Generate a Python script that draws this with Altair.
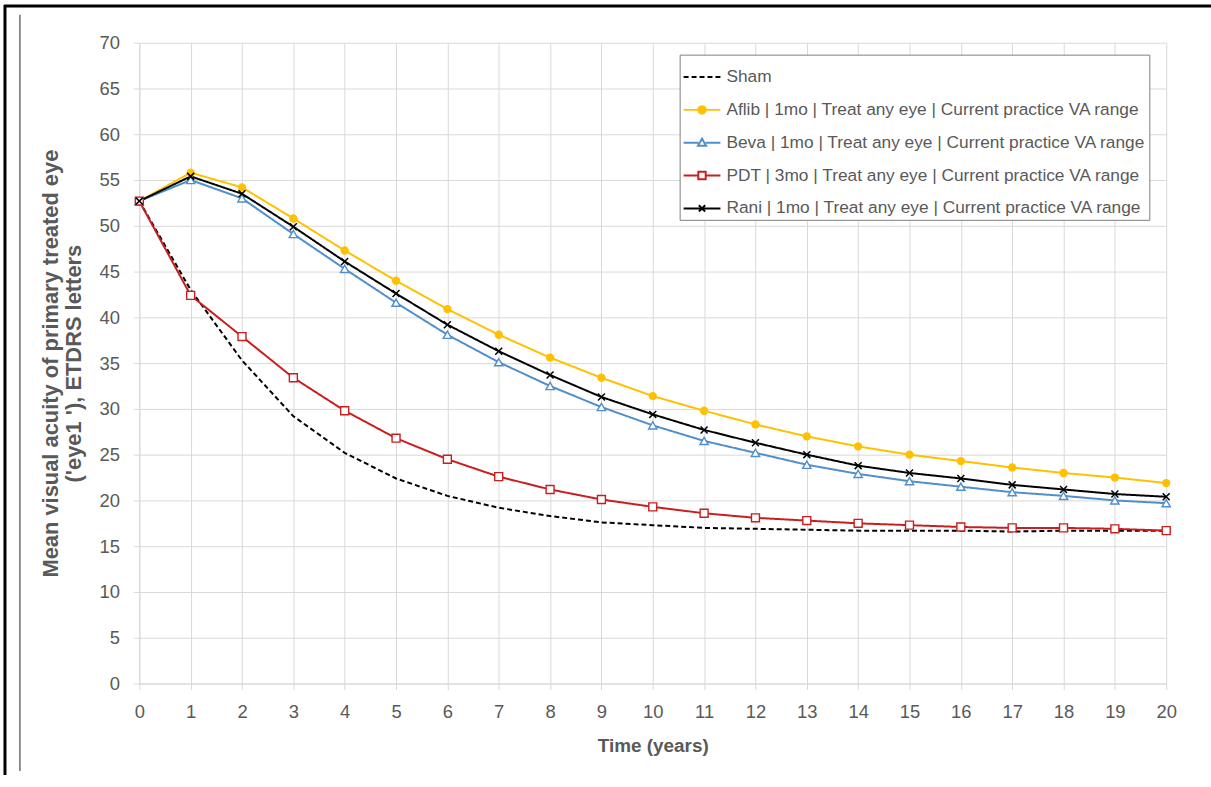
import altair as alt
import pandas as pd

years = list(range(21))
series_names = [
    "Sham",
    "Aflib | 1mo | Treat any eye | Current practice VA range",
    "Beva | 1mo | Treat any eye | Current practice VA range",
    "PDT | 3mo | Treat any eye | Current practice VA range",
    "Rani | 1mo | Treat any eye | Current practice VA range",
]
sham = [52.7, 43.0, 35.3, 29.2, 25.2, 22.4, 20.5, 19.2, 18.3, 17.6, 17.3, 17.0, 16.9, 16.8, 16.7, 16.7, 16.7, 16.6, 16.7, 16.7, 16.7]
aflib = [52.7, 55.8, 54.2, 50.8, 47.3, 44.0, 40.9, 38.1, 35.6, 33.4, 31.4, 29.8, 28.3, 27.0, 25.9, 25.0, 24.3, 23.6, 23.0, 22.5, 21.9]
beva = [52.7, 55.0, 53.0, 49.1, 45.3, 41.6, 38.1, 35.1, 32.5, 30.2, 28.2, 26.5, 25.2, 23.9, 22.9, 22.1, 21.5, 20.9, 20.5, 20.0, 19.7]
pdt = [52.7, 42.4, 37.9, 33.4, 29.8, 26.8, 24.5, 22.6, 21.2, 20.1, 19.3, 18.6, 18.1, 17.8, 17.5, 17.3, 17.1, 17.0, 17.0, 16.9, 16.7]
rani = [52.7, 55.4, 53.5, 49.9, 46.1, 42.6, 39.2, 36.3, 33.7, 31.3, 29.4, 27.7, 26.3, 25.0, 23.8, 23.0, 22.4, 21.7, 21.2, 20.7, 20.4]
colors = ["#000000", "#FFC000", "#4F8FCC", "#C81E1E", "#000000"]
y_ticks = list(range(0, 75, 5))

rows = []
for name, vals in zip(series_names, [sham, aflib, beva, pdt, rani]):
    for yr, v in zip(years, vals):
        rows.append({"year": yr, "va": v, "series": name})
df = pd.DataFrame(rows)

FONT = "Liberation Sans"
GREY = "#595959"

color_scale = alt.Scale(domain=series_names, range=colors)
dash_scale = alt.Scale(domain=series_names, range=[[5, 3], [1, 0], [1, 0], [1, 0], [1, 0]])
# legend glyphs: a line with the series marker; hollow markers are traced
# forward and backward so that their fill cancels out
legend_paths = [
    "M-1,0H1",
    "M-1,0H1M0.2,0A0.2,0.2 0 1,1 -0.2,0A0.2,0.2 0 1,1 0.2,0M0.12,0A0.12,0.12 0 1,1 -0.12,0A0.12,0.12 0 1,1 0.12,0M0.05,0A0.05,0.05 0 1,1 -0.05,0A0.05,0.05 0 1,1 0.05,0",
    "M-1,0H-0.2M0.2,0H1M0,-0.22L0.22,0.17L-0.22,0.17ZM0,-0.22L-0.22,0.17L0.22,0.17Z",
    "M-1,0H-0.2M0.2,0H1M-0.2,-0.2H0.2V0.2H-0.2ZM-0.2,-0.2V0.2H0.2V-0.2Z",
    "M-1,0H1M-0.17,-0.17L0.17,0.17M0.17,-0.17L-0.17,0.17",
]
shape_scale = alt.Scale(domain=series_names, range=legend_paths)

x_axis = alt.Axis(values=years, title="Time (years)", format="d", titleY=53, labelFlush=False)
y_axis = alt.Axis(
    values=y_ticks, labelFlush=False,
    title=["Mean visual acuity of primary treated eye", "('eye1 '), ETDRS letters"],
    titleX=-77, titleY=322, titleAngle=-90, titleAlign="center", titleBaseline="bottom",
)
x_scale = alt.Scale(domain=[0, 20], nice=False)
y_scale = alt.Scale(domain=[0, 70], nice=False)

base = alt.Chart(df)

# legend carrier (first layer so its legend is the one kept); its marks lie
# outside the plotted range and are clipped away
leg = alt.Legend(orient="none", legendX=543, legendY=12, title=None)
legend_layer = base.transform_filter(alt.datum.year == 0).transform_calculate(
    hidden="-1000"
).mark_point(filled=False, opacity=1, clip=True).encode(
    x=alt.X("year:Q", scale=x_scale, axis=x_axis),
    y=alt.Y("hidden:Q", scale=y_scale, axis=y_axis),
    color=alt.Color("series:N", scale=color_scale, title=None, legend=leg),
    shape=alt.Shape("series:N", scale=shape_scale, title=None, legend=leg),
    strokeDash=alt.StrokeDash("series:N", scale=dash_scale, title=None, legend=leg),
)

lines = base.mark_line(strokeWidth=2).encode(
    x=alt.X("year:Q", scale=x_scale, axis=x_axis),
    y=alt.Y("va:Q", scale=y_scale, axis=y_axis),
    color=alt.Color("series:N", scale=color_scale, legend=None),
    strokeDash=alt.StrokeDash("series:N", scale=dash_scale, legend=None),
    detail="series:N",
)

def pts(name, **kw):
    return base.transform_filter(alt.datum.series == name).mark_point(**kw).encode(
        x="year:Q", y="va:Q",
        color=alt.Color("series:N", scale=color_scale, legend=None),
    )

p_aflib = pts(series_names[1], shape="circle", filled=True, size=70, opacity=1)
p_beva = pts(series_names[2], shape="triangle-up", filled=False, fill="white", size=70, strokeWidth=1.4, opacity=1)
p_pdt = pts(series_names[3], shape="square", filled=False, fill="white", size=64, strokeWidth=1.4, opacity=1)
p_rani = pts(series_names[4], shape="M-1,-1L1,1M1,-1L-1,1", filled=False, size=49, strokeWidth=1.5, opacity=1)

one = pd.DataFrame({"k": [0]})
frame_top = alt.Chart(one).mark_rule(color="black", strokeWidth=3).encode(
    x=alt.value(-136), x2=alt.value(1077), y=alt.value(-37))
frame_left = alt.Chart(one).mark_rule(color="black", strokeWidth=3).encode(
    x=alt.value(-135), y=alt.value(-38), y2=alt.value(740))
page_line = alt.Chart(one).mark_rule(color="#6E6E6E", strokeWidth=1.5).encode(
    x=alt.value(-120), y=alt.value(-28), y2=alt.value(732))

chart = alt.layer(
    legend_layer, lines, p_aflib, p_beva, p_pdt, p_rani, frame_top, frame_left, page_line
).properties(
    width=1032, height=644,
    autosize=alt.AutoSizeParams(type="none"),
    padding={"left": 140, "top": 41, "right": 45, "bottom": 90},
    background="white",
).configure_view(stroke=None).configure_axis(
    labelFont=FONT, titleFont=FONT, labelFontSize=18.5, titleFontSize=19,
    labelColor=GREY, titleColor=GREY, titleFontWeight="bold",
    gridColor="#D9D9D9", gridWidth=1, domainColor="#D9D9D9", tickColor="#D9D9D9",
    tickSize=6, domainWidth=1,
).configure_axisX(labelPadding=13, labelAngle=0).configure_axisY(
    labelPadding=14, titleLineHeight=23, titleFontSize=22,
).configure_legend(
    orient="none", legendX=543, legendY=12,
    labelFont=FONT, labelFontSize=17.4, labelColor=GREY, labelLimit=600,
    symbolSize=1369, symbolStrokeWidth=2,
    strokeColor="#7F7F7F", fillColor="white",
    padding=3, rowPadding=5, labelOffset=5, cornerRadius=0,
)

chart.save("out.html", embed_options={"renderer": "svg", "actions": False})
